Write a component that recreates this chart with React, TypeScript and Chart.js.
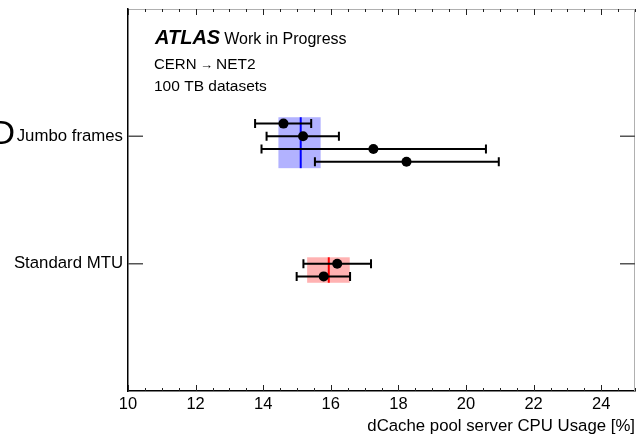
import React, { useEffect, useRef } from "react";
import { Chart, registerables } from "chart.js";

Chart.register(...registerables);

// ---- data ----
const categories = ["Standard MTU", "Jumbo frames"]; // category positions 1 and 2 on the y axis
const xTicks = [10, 12, 14, 16, 18, 20, 22, 24];

const jumboValues = [14.6, 15.18, 17.26, 18.24];
const jumboLow = [13.76, 14.1, 13.95, 15.53];
const jumboHigh = [15.42, 16.24, 20.59, 20.97];
const jumboCentral = 15.11;
const jumboBand = [14.45, 15.7];

const standardValues = [16.19, 15.79];
const standardLow = [15.19, 14.99];
const standardHigh = [17.19, 16.57];
const standardCentral = 15.94;
const standardBand = [15.3, 16.56];

const FONT = "'Liberation Sans', Arial, Helvetica, sans-serif";

type Group = {
  cat: number;
  top: number;
  values: number[];
  low: number[];
  high: number[];
  central: number;
  band: number[];
  fill: string;
  line: string;
};

const groups: Group[] = [
  {
    cat: 2,
    top: 0.1,
    values: jumboValues,
    low: jumboLow,
    high: jumboHigh,
    central: jumboCentral,
    band: jumboBand,
    fill: "rgba(0,0,255,0.3)",
    line: "#0000ff",
  },
  {
    cat: 1,
    top: 0,
    values: standardValues,
    low: standardLow,
    high: standardHigh,
    central: standardCentral,
    band: standardBand,
    fill: "rgba(255,0,0,0.3)",
    line: "#ff0000",
  },
];

const STEP = 0.1;
const yOf = (g: Group, i: number) => g.cat + g.top - STEP * i;

const overlay = {
  id: "overlay",
  beforeDatasetsDraw(chart: any) {
    const { ctx } = chart;
    const xs = chart.scales.x;
    const ys = chart.scales.y;
    ctx.save();
    for (const g of groups) {
      const yTop = yOf(g, 0) + 0.05;
      const yBot = yOf(g, g.values.length - 1) - 0.05;
      const x0 = xs.getPixelForValue(g.band[0]);
      const x1 = xs.getPixelForValue(g.band[1]);
      const p0 = ys.getPixelForValue(yTop);
      const p1 = ys.getPixelForValue(yBot);
      ctx.fillStyle = g.fill;
      ctx.fillRect(x0, p0, x1 - x0, p1 - p0);
      ctx.strokeStyle = g.line;
      ctx.lineWidth = 2;
      const xc = xs.getPixelForValue(g.central);
      ctx.beginPath();
      ctx.moveTo(xc, p0);
      ctx.lineTo(xc, p1);
      ctx.stroke();
      // error bars
      ctx.strokeStyle = "#000";
      ctx.lineWidth = 2;
      g.values.forEach((_, i) => {
        const py = ys.getPixelForValue(yOf(g, i));
        const xl = xs.getPixelForValue(g.low[i]);
        const xh = xs.getPixelForValue(g.high[i]);
        ctx.beginPath();
        ctx.moveTo(xl, py);
        ctx.lineTo(xh, py);
        ctx.moveTo(xl, py - 4.5);
        ctx.lineTo(xl, py + 4.5);
        ctx.moveTo(xh, py - 4.5);
        ctx.lineTo(xh, py + 4.5);
        ctx.stroke();
      });
    }
    ctx.restore();
  },
  afterDraw(chart: any) {
    const { ctx, chartArea } = chart;
    const xs = chart.scales.x;
    const ys = chart.scales.y;
    const { left, right, top, bottom } = chartArea;
    ctx.save();
    // frame top/right
    ctx.strokeStyle = "#b0b0b0";
    ctx.lineWidth = 1;
    ctx.beginPath();
    ctx.moveTo(left, top + 0.5);
    ctx.lineTo(right, top + 0.5);
    ctx.moveTo(right - 0.5, top);
    ctx.lineTo(right - 0.5, bottom);
    ctx.stroke();
    // x ticks (major/minor), bottom & top
    ctx.strokeStyle = "#222";
    ctx.lineWidth = 1;
    ctx.beginPath();
    for (let v = xs.min; v <= xs.max + 1e-9; v += 0.5) {
      const px = Math.round(xs.getPixelForValue(v)) + 0.5;
      const major = Math.abs(v / 2 - Math.round(v / 2)) < 1e-6;
      const len = major ? 6 : 3;
      ctx.moveTo(px, bottom);
      ctx.lineTo(px, bottom - len);
      ctx.moveTo(px, top);
      ctx.lineTo(px, top + len);
    }
    ctx.stroke();
    // y ticks left & right
    ctx.strokeStyle = "#555";
    ctx.lineWidth = 1.5;
    ctx.beginPath();
    categories.forEach((_, i) => {
      const py = ys.getPixelForValue(i + 1);
      ctx.moveTo(left, py);
      ctx.lineTo(left + 15, py);
      ctx.moveTo(right, py);
      ctx.lineTo(right - 15, py);
    });
    ctx.stroke();
    // texts
    ctx.fillStyle = "#000";
    ctx.textBaseline = "alphabetic";
    ctx.textAlign = "left";
    ctx.font = `italic bold 20px ${FONT}`;
    ctx.fillText("ATLAS", 155, 44);
    const w = ctx.measureText("ATLAS").width;
    ctx.font = `16px ${FONT}`;
    ctx.fillText("Work in Progress", 155 + w + 4, 44);
    ctx.font = `15px ${FONT}`;
    ctx.fillText("CERN", 154, 69);
    ctx.font = `13px ${FONT}`;
    ctx.fillText("\u2192", 200, 69);
    ctx.font = `15.5px ${FONT}`;
    ctx.fillText("NET2", 216, 69);
    ctx.font = `15.5px ${FONT}`;
    ctx.fillText("100 TB datasets", 154, 91);
    ctx.font = `34px ${FONT}`;
    ctx.textAlign = "right";
    ctx.fillText("D", 15, 144);
    ctx.restore();
  },
};

export default function App() {
  const ref = useRef<HTMLCanvasElement | null>(null);
  useEffect(() => {
    document.body.style.margin = "0";
    if (!ref.current) return;
    const datasets = groups.map((g) => ({
      label: categories[g.cat - 1],
      data: g.values.map((v, i) => ({ x: v, y: yOf(g, i) })),
      pointRadius: 5,
      pointHoverRadius: 5,
      backgroundColor: "#000",
      borderColor: "#000",
      borderWidth: 0,
    }));
    const chart = new Chart(ref.current, {
      type: "scatter",
      data: { datasets },
      plugins: [overlay],
      options: {
        animation: false,
        responsive: false,
        maintainAspectRatio: false,
        layout: { padding: { top: 9, right: 2, left: 0, bottom: 0 } },
        plugins: { legend: { display: false }, tooltip: { enabled: false } },
        scales: {
          x: {
            type: "linear",
            min: 10,
            max: 25,
            afterBuildTicks: (s: any) => {
              s.ticks = xTicks.map((v) => ({ value: v }));
            },
            afterFit: (s: any) => {
              s.height = 45;
              s.paddingLeft = 0;
              s.paddingRight = 0;
            },
            grid: { display: false, drawTicks: false },
            border: { display: true, color: "#000", width: 1.5 },
            ticks: {
              color: "#000",
              padding: 4,
              maxRotation: 0,
              autoSkip: false,
              font: { family: FONT, size: 16.5 },
            },
            title: {
              display: true,
              text: "dCache pool server CPU Usage [%]",
              align: "end",
              color: "#000",
              padding: { top: 0, bottom: 0 },
              font: { family: FONT, size: 16.8 },
            },
          },
          y: {
            type: "linear",
            min: 0,
            max: 3,
            afterBuildTicks: (s: any) => {
              s.ticks = categories.map((_, i) => ({ value: i + 1 }));
            },
            afterFit: (s: any) => {
              s.width = 128;
              s.paddingTop = 0;
              s.paddingBottom = 0;
            },
            grid: { display: false, drawTicks: false },
            border: { display: true, color: "#000", width: 1.5 },
            ticks: {
              color: "#000",
              padding: 5,
              autoSkip: false,
              font: { family: FONT, size: 16.8 },
              callback: (v: any) => categories[Number(v) - 1] ?? "",
            },
          },
        },
      },
    } as any);
    return () => chart.destroy();
  }, []);
  return (
    <div style={{ width: 640, height: 436 }}>
      <canvas ref={ref} width={640} height={436} style={{ display: "block" }} />
    </div>
  );
}
